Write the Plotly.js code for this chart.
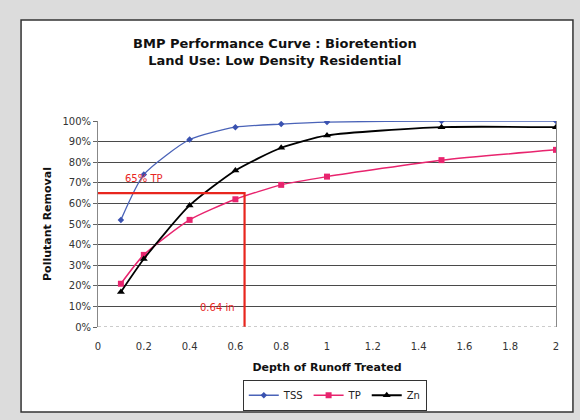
<!DOCTYPE html>
<html>
<head>
<meta charset="utf-8">
<script src="https://cdn.plot.ly/plotly-3.0.1.min.js"></script>
<style>html,body{margin:0;padding:0;background:#dcdcdc;}#chart{width:580px;height:420px;}</style>
</head>
<body>
<div id="chart"></div>
<script>
const depth = [0.1, 0.2, 0.4, 0.6, 0.8, 1.0, 1.5, 2.0];
const tss = [0.52, 0.74, 0.91, 0.97, 0.985, 0.995, 1.0, 1.0];
const tp = [0.21, 0.35, 0.52, 0.62, 0.69, 0.73, 0.81, 0.86];
const zn = [0.17, 0.33, 0.59, 0.76, 0.87, 0.93, 0.97, 0.97];
const targetRemoval = 0.65;
const targetDepth = 0.64;
const seriesNames = ["TSS", "TP", "Zn"];
const titleLines = ["BMP Performance Curve : Bioretention", "Land Use: Low Density Residential"];

const font = "DejaVu Sans, Verdana, sans-serif";
const red = "#e8261e";

const traces = [
  {x: depth, y: tss, name: seriesNames[0], mode: "lines+markers",
   line: {color: "#4a63b8", width: 1.3, shape: "spline", smoothing: 0.6},
   marker: {symbol: "diamond", size: 5, color: "#3a52b0"}},
  {x: depth, y: tp, name: seriesNames[1], mode: "lines+markers",
   line: {color: "#e8246e", width: 1.5, shape: "spline", smoothing: 0.6},
   marker: {symbol: "square", size: 6, color: "#e8246e"}},
  {x: depth, y: zn, name: seriesNames[2], mode: "lines+markers",
   line: {color: "#000000", width: 1.8, shape: "spline", smoothing: 0.6},
   marker: {symbol: "triangle-up", size: 7, color: "#000000"}},
  {x: [0, targetDepth, targetDepth], y: [targetRemoval, targetRemoval, 0], mode: "lines",
   line: {color: red, width: 2.2}, showlegend: false, hoverinfo: "skip"}
];

const layout = {
  width: 580, height: 420,
  paper_bgcolor: "#dcdcdc", plot_bgcolor: "#ffffff",
  margin: {l: 98, r: 24, t: 121, b: 93},
  font: {family: font, size: 10, color: "#222"},
  title: {text: "<b>" + titleLines[0] + "</b><br><b>" + titleLines[1] + "</b>",
          font: {family: font, size: 13, color: "#111"}, x: 0.474, xanchor: "center", y: 0.885, yanchor: "middle"},
  xaxis: {range: [0, 2], dtick: 0.2, tickformat: "~r", showgrid: false, zeroline: false,
          showline: false, ticks: "", ticklen: 0, ticklabelstandoff: 12,
          tickfont: {family: font, size: 10, color: "#333"},
          title: {text: "<b>Depth of Runoff Treated</b>", font: {family: font, size: 11, color: "#111"}, standoff: 12}},
  yaxis: {range: [0, 1.0], dtick: 0.1, tickformat: ".0%", showgrid: true, gridcolor: "#4a4a4a", gridwidth: 1,
          zeroline: false, showline: true, linecolor: "#888", linewidth: 1, mirror: true,
          ticks: "outside", ticklen: 4, tickcolor: "#666",
          tickfont: {family: font, size: 10, color: "#333"},
          title: {text: "<b>Pollutant Removal</b>", font: {family: font, size: 11, color: "#111"}, standoff: 8}},
  legend: {orientation: "h", x: 0.517, xanchor: "center", yref: "container", y: 0.022, yanchor: "bottom",
           bordercolor: "#333", borderwidth: 1, bgcolor: "#fff", itemwidth: 30,
           font: {family: font, size: 10, color: "#222"}},
  shapes: [
    {type: "rect", xref: "paper", yref: "paper", x0: -0.168, x1: 1.037, y0: -0.413, y1: 1.49,
     fillcolor: "#ffffff", line: {color: "#333", width: 1.5}, layer: "below"},
    {type: "line", xref: "paper", yref: "y", x0: 0, x1: 1, y0: 0, y1: 0,
     line: {color: "#999", width: 1, dash: "dot"}}
  ],
  annotations: [
    {x: 0.2, y: 0.72, text: "65% TP", showarrow: false, font: {family: font, size: 10, color: red}},
    {x: 0.52, y: 0.097, text: "0.64 in", showarrow: false, font: {family: font, size: 10, color: red}}
  ]
};

Plotly.newPlot("chart", traces, layout, {displayModeBar: false, staticPlot: true});
</script>
</body>
</html>
